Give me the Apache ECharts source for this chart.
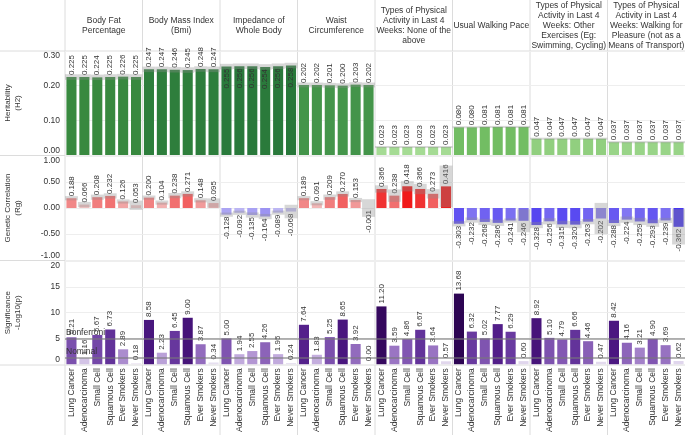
<!DOCTYPE html>
<html><head><meta charset="utf-8">
<script src="https://cdn.jsdelivr.net/npm/echarts@6/dist/echarts.min.js"></script>
<style>html,body{margin:0;padding:0;background:#fff}#c{width:685px;height:435px}</style>
</head><body><div id="c"></div>
<script>
const categories = ['Lung Cancer','Adenocarcinoma','Small Cell','Squamous Cell','Ever Smokers','Never Smokers'];
const traits = [
  'Body Fat\nPercentage',
  'Body Mass Index\n(Bmi)',
  'Impedance of\nWhole Body',
  'Waist\nCircumference',
  'Types of Physical\nActivity in Last 4\nWeeks: None of the\nabove',
  'Usual Walking Pace',
  'Types of Physical\nActivity in Last 4\nWeeks: Other\nExercises (Eg:\nSwimming, Cycling)',
  'Types of Physical\nActivity in Last 4\nWeeks: Walking for\nPleasure (not as a\nMeans of Transport)'
];
const rowNames = ['Heritability\n(H2)', 'Genetic Correlation\n(Rg)', 'Significance\n-Log10(p)'];

const h2Values = [
  [0.225,0.225,0.224,0.225,0.226,0.225],
  [0.247,0.247,0.246,0.245,0.248,0.247],
  [0.255,0.256,0.256,0.254,0.256,0.258],
  [0.202,0.202,0.201,0.200,0.203,0.202],
  [0.023,0.023,0.023,0.023,0.023,0.023],
  [0.080,0.080,0.081,0.081,0.081,0.081],
  [0.047,0.047,0.047,0.047,0.047,0.047],
  [0.037,0.037,0.037,0.037,0.037,0.037]
];
const h2Err = [
  [0.008,0.008,0.008,0.008,0.008,0.008],
  [0.008,0.008,0.008,0.008,0.008,0.008],
  [0.008,0.008,0.008,0.008,0.008,0.008],
  [0.007,0.007,0.007,0.007,0.007,0.007],
  [0.003,0.003,0.003,0.003,0.003,0.003],
  [0.003,0.003,0.003,0.003,0.003,0.003],
  [0.003,0.003,0.003,0.003,0.003,0.003],
  [0.003,0.003,0.003,0.003,0.003,0.003]
];
const rgValues = [
  [0.188,0.066,0.208,0.232,0.126,0.053],
  [0.200,0.104,0.238,0.271,0.148,0.095],
  [-0.128,-0.092,-0.135,-0.164,-0.089,-0.068],
  [0.189,0.091,0.209,0.270,0.153,-0.001],
  [0.366,0.238,0.418,0.366,0.273,0.416],
  [-0.303,-0.232,-0.268,-0.286,-0.241,-0.246],
  [-0.328,-0.256,-0.315,-0.320,-0.263,-0.202],
  [-0.288,-0.224,-0.259,-0.293,-0.239,-0.362]
];
const rgErr = [
  [0.04,0.05,0.05,0.05,0.04,0.09],
  [0.04,0.04,0.05,0.05,0.04,0.09],
  [0.04,0.04,0.05,0.05,0.04,0.13],
  [0.04,0.04,0.05,0.05,0.04,0.17],
  [0.07,0.12,0.10,0.10,0.09,0.40],
  [0.05,0.05,0.06,0.06,0.04,0.22],
  [0.06,0.06,0.07,0.07,0.05,0.30],
  [0.06,0.06,0.07,0.07,0.05,0.34]
];
const sigValues = [
  [5.21,1.16,5.67,6.73,2.89,0.18],
  [8.58,2.23,6.45,9.00,3.87,0.34],
  [5.00,1.94,2.55,4.26,1.95,0.24],
  [7.64,1.83,5.25,8.65,3.92,0.00],
  [11.20,3.59,4.86,6.67,3.64,0.57],
  [13.68,6.32,5.02,7.77,6.29,0.60],
  [8.92,5.10,4.79,6.66,4.46,0.47],
  [8.42,4.16,3.21,4.90,3.69,0.62]
];
const thresholds = [{name:'Bonferroni', value:5.0},{name:'Nominal', value:1.3}];

const FONT = '"Liberation Sans", Arial, Helvetica, sans-serif';
const TXT = '#333';
const L = 65, CW = 77.5;
const rows = [{top:51,height:104},{top:156,height:104},{top:261,height:104}];
const axes = [
  {min:0,max:0.3,interval:0.1,fmt:v=>v.toFixed(2)},
  {min:-1,max:1,interval:0.5,fmt:v=>v.toFixed(2)},
  {min:0,max:20,interval:5,fmt:v=>String(v)}
];

function hex(h){return [parseInt(h.slice(1,3),16),parseInt(h.slice(3,5),16),parseInt(h.slice(5,7),16)];}
function interp(stops, v){
  if (v <= stops[0][0]) return stops[0][1];
  for (let i=1;i<stops.length;i++){
    if (v <= stops[i][0]){
      const t=(v-stops[i-1][0])/(stops[i][0]-stops[i-1][0]);
      const a=hex(stops[i-1][1]), b=hex(stops[i][1]);
      return 'rgb('+a.map((x,k)=>Math.round(x+(b[k]-x)*t)).join(',')+')';
    }
  }
  return stops[stops.length-1][1];
}
const h2Stops=[[0.02,'#a8dc97'],[0.05,'#8ecd7c'],[0.08,'#72bd63'],[0.20,'#45964b'],[0.225,'#38893f'],[0.26,'#27773a']];
const rgPos=[[0,'#f2e2e2'],[0.42,'#f01818']];
const rgNeg=[[0,'#e2e0f4'],[0.37,'#4432f0']];
const sigStops=[[0,'#eeeaf4'],[2,'#c0a8dc'],[4,'#9068bc'],[6,'#6e40a4'],[8,'#4e1a86'],[11,'#36085f'],[14,'#2c0552']];

const option = {animation:false, textStyle:{fontFamily:FONT}, grid:[], xAxis:[], yAxis:[], series:[], graphic:[]};

function errSeries(gi, vals, errs){
  return {
    type:'custom', xAxisIndex:gi, yAxisIndex:gi, z:3, silent:true,
    data: vals.map((v,i)=>[i, v-errs[i], v+errs[i]]),
    encode:{x:0,y:[1,2]},
    renderItem:(params, api)=>{
      const p1=api.coord([api.value(0), api.value(2)]);
      const p2=api.coord([api.value(0), api.value(1)]);
      const w=api.size([1,0])[0];
      return {type:'rect', shape:{x:p1[0]-w/2, y:p1[1], width:w, height:p2[1]-p1[1]},
        style:{fill:'rgba(140,140,140,0.35)'}};
    }
  };
}

for (let r=0;r<3;r++){
  for (let c=0;c<8;c++){
    const gi=r*8+c;
    option.grid.push({left:L+CW*c, top:rows[r].top, width:CW, height:rows[r].height});
    option.xAxis.push({
      type:'category', gridIndex:gi, data:categories,
      axisTick:{show:false}, axisLine:{show:false},
      axisLabel:{show:r===2, rotate:90, interval:0, fontSize:8.5, color:TXT, margin:4, fontFamily:FONT}
    });
    const a=axes[r];
    option.yAxis.push({
      type:'value', gridIndex:gi, min:a.min, max:a.max, interval:a.interval,
      axisLine:{show:false}, axisTick:{show:false},
      splitLine:{show:true, lineStyle:{color:'#eeeeee', width:1}},
      axisLabel:{show:c===0, formatter:a.fmt, fontSize:8.5, color:TXT, margin:5, fontFamily:FONT,
        verticalAlignMinLabel:'bottom', verticalAlignMaxLabel:'top'},
      name: c===0 ? rowNames[r] : '', nameLocation:'middle', nameRotate:90, nameGap:42,
      nameTextStyle:{fontSize:8, color:TXT, lineHeight:10, fontFamily:FONT}
    });
    const baseLabel={show:true, rotate:90, fontSize:8, color:TXT, fontFamily:FONT, verticalAlign:'middle', distance:2};
    if (r===0){
      const inside = c===2;
      option.series.push({
        type:'bar', xAxisIndex:gi, yAxisIndex:gi, z:2, barCategoryGap:'22%',
        data:h2Values[c].map(v=>({value:v, itemStyle:{color:interp(h2Stops,v)}})),
        label:Object.assign({}, baseLabel, {position: inside?'insideTop':'top', align: inside?'right':'left',
          formatter:p=>p.value.toFixed(3)})
      });
      option.series.push(errSeries(gi, h2Values[c], h2Err[c]));
    } else if (r===1){
      option.series.push({
        type:'bar', xAxisIndex:gi, yAxisIndex:gi, z:2, barCategoryGap:'22%',
        data:rgValues[c].map(v=>({value:v,
          itemStyle:{color: v>=0 ? interp(rgPos,v) : interp(rgNeg,-v)},
          label:{position: v>=0?'top':'bottom', align: v>=0?'left':'right'}})),
        label:Object.assign({}, baseLabel, {formatter:p=>p.value.toFixed(3)})
      });
      option.series.push(errSeries(gi, rgValues[c], rgErr[c]));
    } else {
      option.series.push({
        type:'bar', xAxisIndex:gi, yAxisIndex:gi, z:2, barCategoryGap:'22%',
        data:sigValues[c].map(v=>({value:v, itemStyle:{color:interp(sigStops,v)}})),
        label:Object.assign({}, baseLabel, {position:'top', align:'left', distance:3, formatter:p=>p.value.toFixed(2)}),
        markLine:{
          silent:true, symbol:'none',
          lineStyle:{color:'rgba(120,120,120,0.55)', width:2, type:'solid'},
          label:{show:c===0, position:'insideStartTop', formatter:'{b}', fontSize:8.5, color:TXT, distance:1, fontFamily:FONT},
          data:thresholds.map(t=>({name:t.name, yAxis:t.value}))
        }
      });
    }
  }
}

// header titles
traits.forEach((t,c)=>{
  option.graphic.push({type:'text', x:L+CW*(c+0.5), y:26, silent:true,
    style:{text:t, fontSize:8.5, fontFamily:FONT, fill:TXT, align:'center', verticalAlign:'middle', lineHeight:10}});
});
// frame lines
for (let c=0;c<8;c++){
  option.graphic.push({type:'line', silent:true, z:0,
    shape:{x1:L+CW*c, y1:0, x2:L+CW*c, y2:435}, style:{stroke:'#dcdcdc', lineWidth:1}});
}
[51,155.5,260.5,365].forEach(y=>{
  option.graphic.push({type:'line', silent:true, z:0,
    shape:{x1:0, y1:y, x2:685, y2:y}, style:{stroke:'#dcdcdc', lineWidth:1}});
});

const chart = echarts.init(document.getElementById('c'), null, {renderer:'canvas'});
chart.setOption(option);
</script>
</body></html>
